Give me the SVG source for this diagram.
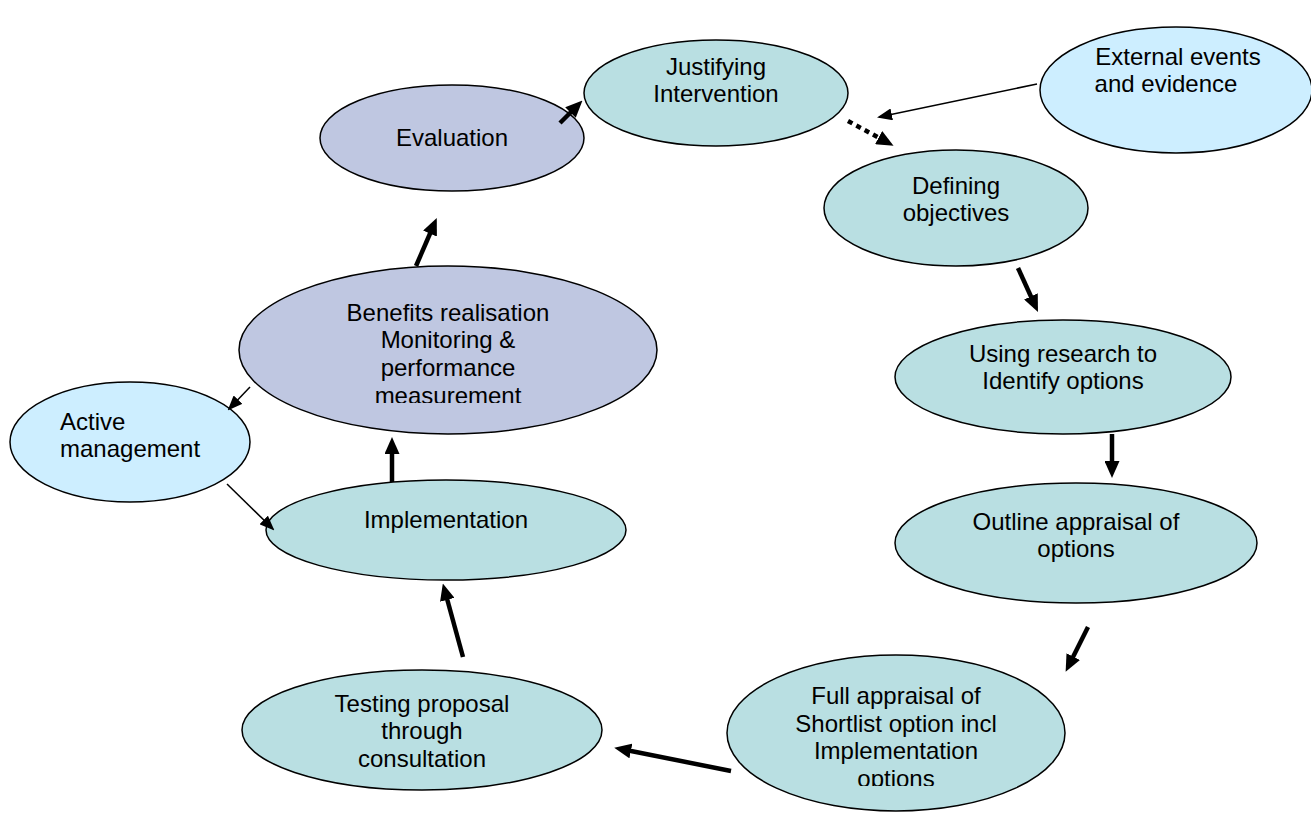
<svg xmlns="http://www.w3.org/2000/svg" width="1311" height="813" viewBox="0 0 1311 813">
<style>
.n ellipse{stroke:#000;stroke-width:1.5}
.t{fill:#b9dfe2}
.p{fill:#bfc7e1}
.b{fill:#cdeeff}
text{font-family:"Liberation Sans",Arial,sans-serif;font-size:24px;fill:#000;text-anchor:middle}
.c line{stroke:#000}
.thick{stroke-width:4.5}
.thin{stroke-width:1.5}
</style>
<defs>
<marker id="ah" markerUnits="userSpaceOnUse" markerWidth="17" markerHeight="15" viewBox="0 0 17 15" refX="5" refY="7.5" orient="auto"><path d="M0,0 L17,7.5 L0,15 z" fill="#000"/></marker>
<marker id="as" markerUnits="userSpaceOnUse" markerWidth="15" markerHeight="12" viewBox="0 0 15 12" refX="13" refY="6" orient="auto"><path d="M0,0 L15,6 L0,12 z" fill="#000"/></marker>
<clipPath id="cb"><rect x="0" y="0" width="1311" height="403"/></clipPath>
<clipPath id="cf"><rect x="0" y="0" width="1311" height="786"/></clipPath>
</defs>
<rect width="1311" height="813" fill="#fff"/>
<g id="external" class="n"><ellipse class="b" cx="1176" cy="90" rx="136" ry="63"/><text x="1178" y="65">External events</text><text x="1166" y="92">and evidence</text></g>
<g id="justifying" class="n"><ellipse class="t" cx="716" cy="93" rx="132" ry="53"/><text x="716" y="75">Justifying</text><text x="716" y="102">Intervention</text></g>
<g id="evaluation" class="n"><ellipse class="p" cx="452" cy="138" rx="132" ry="53"/><text x="452" y="146">Evaluation</text></g>
<g id="defining" class="n"><ellipse class="t" cx="956" cy="208" rx="132" ry="58"/><text x="956" y="194">Defining</text><text x="956" y="221">objectives</text></g>
<g id="research" class="n"><ellipse class="t" cx="1063" cy="377" rx="168" ry="57"/><text x="1063" y="362">Using research to</text><text x="1063" y="389">Identify options</text></g>
<g id="outline" class="n"><ellipse class="t" cx="1076" cy="543" rx="181" ry="60"/><text x="1076" y="530">Outline appraisal of</text><text x="1076" y="557">options</text></g>
<g id="full" class="n"><ellipse class="t" cx="896" cy="733" rx="169" ry="78"/><g clip-path="url(#cf)"><text x="896" y="704">Full appraisal of</text><text x="896" y="732">Shortlist option incl</text><text x="896" y="759">Implementation</text><text x="896" y="787">options</text></g></g>
<g id="testing" class="n"><ellipse class="t" cx="422" cy="730" rx="180" ry="60"/><text x="422" y="712">Testing proposal</text><text x="422" y="739">through</text><text x="422" y="767">consultation</text></g>
<g id="implementation" class="n"><ellipse class="t" cx="446" cy="530" rx="180" ry="50"/><text x="446" y="528">Implementation</text></g>
<g id="benefits" class="n"><ellipse class="p" cx="448" cy="350" rx="209" ry="84"/><g clip-path="url(#cb)"><text x="448" y="321">Benefits realisation</text><text x="448" y="348">Monitoring &amp;</text><text x="448" y="376">performance</text><text x="448" y="404">measurement</text></g></g>
<g id="active" class="n"><ellipse class="b" cx="130" cy="442" rx="120" ry="60"/><text x="60" y="430" style="text-anchor:start">Active</text><text x="60" y="457" style="text-anchor:start">management</text></g>
<g id="connectors" class="c">
<line class="thick" x1="560" y1="123" x2="574" y2="109" marker-end="url(#ah)"/>
<line class="thick" x1="848" y1="121" x2="883" y2="140" stroke-dasharray="5 4.5" marker-end="url(#ah)"/>
<line class="thin" x1="1037" y1="84" x2="879" y2="117" marker-end="url(#as)"/>
<line class="thick" x1="1018" y1="268" x2="1033" y2="301" marker-end="url(#ah)"/>
<line class="thick" x1="1112" y1="434" x2="1112" y2="466" marker-end="url(#ah)"/>
<line class="thick" x1="1088" y1="627" x2="1071" y2="661" marker-end="url(#ah)"/>
<line class="thick" x1="731" y1="771" x2="626" y2="750" marker-end="url(#ah)"/>
<line class="thick" x1="463" y1="657" x2="446" y2="595" marker-end="url(#ah)"/>
<line class="thick" x1="392" y1="482" x2="392" y2="449" marker-end="url(#ah)"/>
<line class="thick" x1="416" y1="266" x2="432" y2="229" marker-end="url(#ah)"/>
<line class="thin" x1="250" y1="387" x2="229" y2="409" marker-end="url(#as)"/>
<line class="thin" x1="227" y1="484" x2="273" y2="529" marker-end="url(#as)"/>
</g>
</svg>
